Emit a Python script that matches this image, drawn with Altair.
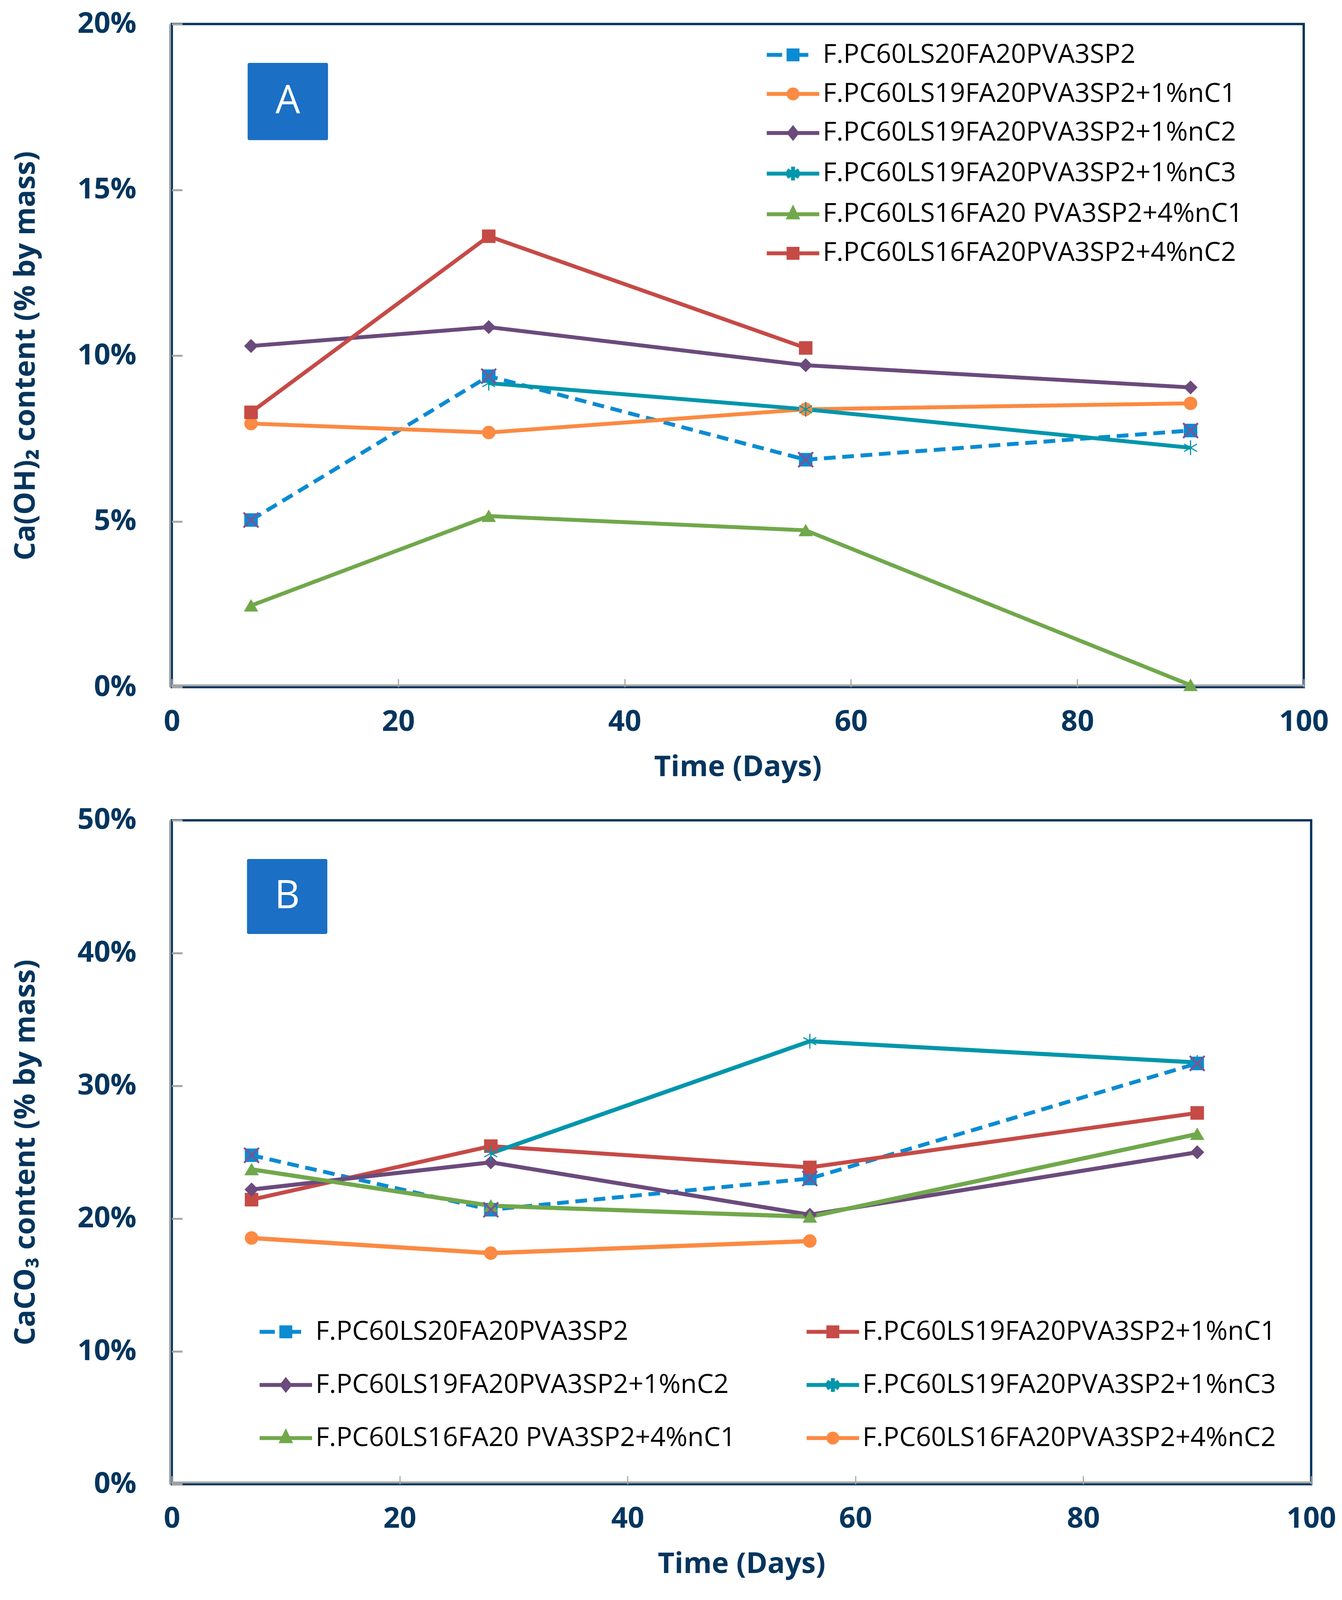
import altair as alt
import pandas as pd

# ---------------- data ----------------
days = [7, 28, 56, 90]
series_names = [
    "F.PC60LS20FA20PVA3SP2",
    "F.PC60LS19FA20PVA3SP2+1%nC1",
    "F.PC60LS19FA20PVA3SP2+1%nC2",
    "F.PC60LS19FA20PVA3SP2+1%nC3",
    "F.PC60LS16FA20 PVA3SP2+4%nC1",
    "F.PC60LS16FA20PVA3SP2+4%nC2",
]
# Panel A: Ca(OH)2 content (% by mass)
a_ls20 = [5.04, 9.38, 6.86, 7.74]
a_1nc1 = [7.95, 7.68, 8.38, 8.56]
a_1nc2 = [10.29, 10.86, 9.71, 9.04]
a_1nc3 = [None, 9.17, 8.38, 7.22]
a_4nc1 = [2.46, 5.16, 4.73, 0.06]
a_4nc2 = [8.29, 13.60, 10.23, None]
# Panel B: CaCO3 content (% by mass)
b_ls20 = [24.77, 20.67, 23.02, 31.69]
b_1nc1 = [21.43, 25.46, 23.86, 27.96]
b_1nc2 = [22.19, 24.24, 20.29, 25.00]
b_1nc3 = [None, 24.92, 33.36, 31.76]
b_4nc1 = [23.71, 20.97, 20.14, 26.37]
b_4nc2 = [18.54, 17.40, 18.31, None]

x_ticks = [0, 20, 40, 60, 80, 100]
a_y_ticks = [0, 0.05, 0.10, 0.15, 0.20]
b_y_ticks = [0, 0.10, 0.20, 0.30, 0.40, 0.50]

# panel tags (annotation boxes, in data units)
a_tag = {"x": [6.7], "x2": [13.8], "y": [0.1883], "y2": [0.1650], "label": ["A"]}
b_tag = {"x": [6.6], "x2": [13.65], "y": [0.4709], "y2": [0.4144], "label": ["B"]}

# legend order (panel B legend is laid out in two columns, filled column by column)
a_legend_order = [0, 1, 2, 3, 4, 5]
b_legend_order = [0, 2, 4, 1, 3, 5]

# ---------------- styles ----------------
NAVY = "#04355E"
GRAY = "#A6A6A6"
TAGBLUE = "#1B6FC4"
XPURPLE = "#7D5492"
FONT = "Open Sans"

COL = {"blue": "#0A8BD3", "orange": "#FB8A42", "purple": "#6B4A7C",
       "teal": "#0096AB", "green": "#70A84B", "red": "#C64A46"}
ASTER = "M0,-1.2V1.2M-1.04,-0.6L1.04,0.6M-1.04,0.6L1.04,-0.6"
MARK = {"blue": "square", "orange": "circle", "purple": "diamond",
        "teal": ASTER, "green": "triangle-up", "red": "square"}
MSIZE = {"blue": 1000, "orange": 1000, "purple": 1150, "teal": 950,
         "green": 1150, "red": 1000}
DASH = {"blue": [30, 17], "orange": [1, 0], "purple": [1, 0], "teal": [1, 0],
        "green": [1, 0], "red": [1, 0]}

LINE = "M-4.2,0H4.2"
LEG = {
    "blue": "M-4.2,0H-1.75M1,0H2.45M-0.72,-0.72H0.72V0.72H-0.72Z",
    "orange": LINE + "M0.72,0A0.72,0.72 0 1 1 -0.72,0A0.72,0.72 0 1 1 0.72,0Z",
    "purple": LINE + "M0,-0.78L0.62,0L0,0.78L-0.62,0Z",
    "teal": LINE + "M0,-1.1V1.1M-0.95,-0.55L0.95,0.55M-0.95,0.55L0.95,-0.55",
    "green": LINE + "M0,-0.85L0.66,0.5L-0.66,0.5Z",
    "red": LINE + "M-0.72,-0.72H0.72V0.72H-0.72Z",
}


def make_panel(vals, roles, widths, ymax, yticks, ytitle, tag, w, h,
               leg_order, leg_x, leg_y, leg_cols, leg_colpad, leg_rowpad):
    rows = []
    for name, vs in zip(series_names, vals):
        for d, v in zip(days, vs):
            if v is not None:
                rows.append({"day": d, "value": v / 100.0, "series": name})
    df = pd.DataFrame(rows)
    dom = series_names
    colors = [COL[r] for r in roles]

    x = alt.X("day:Q", scale=alt.Scale(domain=[0, 100], nice=False),
              axis=alt.Axis(values=x_ticks, title="Time (Days)", format="d",
                            labelFont=FONT, labelFontSize=74, labelFontWeight="bold",
                            labelColor=NAVY, titleFont=FONT, titleFontSize=74,
                            titleFontWeight="bold", titleColor=NAVY,
                            ticks=False, tickSize=0, domainColor=GRAY, domainWidth=5,
                            offset=-5, grid=True, gridColor=GRAY, gridWidth=3,
                            gridDash=[0, h - 21, 21, 100000],
                            labelPadding=58, titlePadding=43, labelFlush=False))
    y = alt.Y("value:Q", scale=alt.Scale(domain=[0, ymax], nice=False),
              axis=alt.Axis(values=yticks, format=".0%", title=ytitle,
                            labelFont=FONT, labelFontSize=74, labelFontWeight="bold",
                            labelColor=NAVY, titleFont=FONT, titleFontSize=74,
                            titleFontWeight="bold", titleColor=NAVY,
                            ticks=False, tickSize=0, domainColor=GRAY, domainWidth=5,
                            offset=5, grid=True, gridColor=GRAY, gridWidth=5,
                            gridDash=[27, 100000], labelPadding=86, titlePadding=130))

    base = alt.Chart(df)
    lines = base.mark_line(opacity=1).encode(
        x=x, y=y,
        color=alt.Color("series:N", scale=alt.Scale(domain=dom, range=colors), legend=None),
        strokeDash=alt.StrokeDash("series:N", scale=alt.Scale(
            domain=dom, range=[DASH[r] for r in roles]), legend=None),
        strokeWidth=alt.StrokeWidth("series:O", scale=alt.Scale(
            domain=dom, range=widths), legend=None),
    )
    points = base.mark_point(filled=True, opacity=1, strokeWidth=3).encode(
        x=x, y=y,
        fill=alt.Fill("series:N", scale=alt.Scale(domain=dom, range=colors), legend=None),
        stroke=alt.Stroke("series:N", scale=alt.Scale(domain=dom, range=colors), legend=None),
        shape=alt.Shape("series:N", scale=alt.Scale(domain=dom, range=[MARK[r] for r in roles]), legend=None),
        size=alt.Size("series:O", scale=alt.Scale(
            domain=dom, range=[MSIZE[r] for r in roles]), legend=None),
    )
    crosses = base.transform_filter(alt.datum.series == series_names[0]).mark_point(
        shape="M-1,-1L1,1M1,-1L-1,1", size=1444, filled=False, color=XPURPLE,
        strokeWidth=5, opacity=1).encode(x=x, y=y)

    ldom = [series_names[i] for i in leg_order]
    lcol = [COL[roles[i]] for i in leg_order]
    lshape = [LEG[roles[i]] for i in leg_order]
    leg = alt.Legend(title=None, orient="none", legendX=leg_x, legendY=leg_y,
                     direction="vertical", columns=leg_cols, columnPadding=leg_colpad,
                     rowPadding=leg_rowpad, symbolSize=1024, symbolStrokeWidth=10,
                     labelFont=FONT, labelFontSize=68, labelColor="black",
                     labelLimit=3000, labelOffset=42, padding=0, symbolOpacity=1)
    legend_layer = base.mark_point(filled=True, opacity=1).encode(
        x=x, y=y,
        fill=alt.Fill("series:N", scale=alt.Scale(domain=ldom, range=lcol), legend=leg),
        stroke=alt.Stroke("series:N", scale=alt.Scale(domain=ldom, range=lcol), legend=leg),
        shape=alt.Shape("series:N", scale=alt.Scale(domain=ldom, range=lshape), legend=leg),
    ).transform_filter("false")

    tag_df = pd.DataFrame(tag)
    tag_rect = alt.Chart(tag_df).mark_rect(color=TAGBLUE, cornerRadius=4).encode(
        x="x:Q", x2="x2:Q", y="y:Q", y2="y2:Q")
    tag_text = alt.Chart(tag_df).transform_calculate(
        xm="(datum.x + datum.x2) / 2", ym="(datum.y + datum.y2) / 2"
    ).mark_text(font=FONT, fontSize=100, color="white", baseline="middle",
                align="center").encode(x="xm:Q", y="ym:Q", text="label:N")

    return alt.layer(lines, points, crosses, legend_layer, tag_rect, tag_text).resolve_scale(
        color="independent", fill="independent", stroke="independent",
        shape="independent", size="independent", strokeDash="independent",
        strokeWidth="independent",
    ).properties(width=w, height=h,
                 view=alt.ViewBackground(stroke=NAVY, strokeWidth=6, fill="white"))


panel_a = make_panel(
    [a_ls20, a_1nc1, a_1nc2, a_1nc3, a_4nc1, a_4nc2],
    ["blue", "orange", "purple", "teal", "green", "red"],
    [10, 10, 10, 11, 9, 7],
    0.20, a_y_ticks, "Ca(OH)₂ content (% by mass)", a_tag, 2899, 1698,
    a_legend_order, 1557, 45, 1, 0, 32)

panel_b = make_panel(
    [b_ls20, b_1nc1, b_1nc2, b_1nc3, b_4nc1, b_4nc2],
    ["blue", "red", "purple", "teal", "green", "orange"],
    [10, 11, 9, 9, 9, 10],
    0.50, b_y_ticks, "CaCO₃ content (% by mass)", b_tag, 2918, 1700,
    b_legend_order, 258, 1276, 2, 160, 64)

chart = alt.vconcat(panel_a, panel_b, spacing=56).resolve_scale(
    color="independent", fill="independent", stroke="independent",
    shape="independent", size="independent", strokeDash="independent",
    strokeWidth="independent",
).properties(
    padding={"left": 19, "top": 13, "right": 4, "bottom": 6}
).configure_view(stroke=NAVY, strokeWidth=6).configure(background="white")

chart.save("out.html", embed_options={"renderer": "svg", "actions": False})
